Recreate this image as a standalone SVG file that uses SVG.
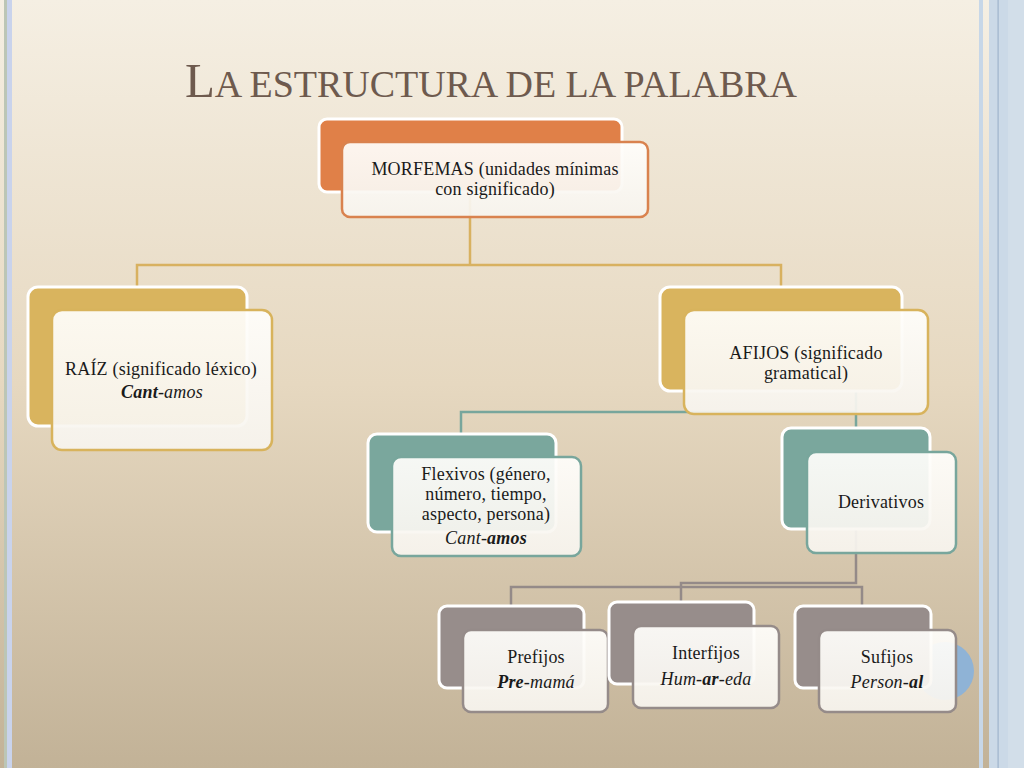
<svg xmlns="http://www.w3.org/2000/svg" width="1024" height="768" viewBox="0 0 1024 768">
<defs>
<linearGradient id="bg" x1="0" y1="0" x2="0" y2="1">
<stop offset="0" stop-color="#f5efe3"/>
<stop offset="0.5" stop-color="#e6d8c0"/>
<stop offset="1" stop-color="#c2b297"/>
</linearGradient>
<linearGradient id="front" x1="0" y1="0" x2="0" y2="1">
<stop offset="0" stop-color="#fffefb"/>
<stop offset="1" stop-color="#f7f4ee"/>
</linearGradient>
</defs>
<style>
.back{stroke:#ffffff;stroke-width:3}
.front{fill:url(#front);fill-opacity:0.93;stroke-width:2.5}
.or{fill:#e08048}
.go{fill:#d9b45e}
.te{fill:#7aa79d}
.gr{fill:#978d8b}
.sor{stroke:#d9824e}
.sgo{stroke:#d8b35c}
.ste{stroke:#78a69c}
.sgr{stroke:#958b89}
.t{font-size:18px;fill:#1a1a1a;text-anchor:middle;letter-spacing:0.2px}
.i{font-style:italic}
.b{font-weight:bold}
.conn{fill:none;stroke-width:2.5}
</style>
<rect x="0" y="0" width="1024" height="768" fill="url(#bg)"/>
<rect x="4" y="0" width="3" height="768" fill="#bcc6b6"/>
<rect x="7" y="0" width="5" height="768" fill="#c9d3ec"/>
<rect x="979" y="0" width="4" height="768" fill="#c7d7e8"/>
<rect x="989" y="0" width="35" height="768" fill="#cbd9e7"/>
<rect x="1008" y="0" width="16" height="768" fill="#d2dee9"/>
<rect x="997.5" y="0" width="1.2" height="768" fill="#9fb4cc"/>

<text x="185" y="97" font-family="Liberation Serif, Times New Roman, serif" fill="#6e5a4e" textLength="612" lengthAdjust="spacing"><tspan font-size="49">L</tspan><tspan font-size="38">A ESTRUCTURA DE LA PALABRA</tspan></text>

<g id="connectors">
<path class="conn" stroke="#d8b160" d="M470 192 V265 M137 287 V265 H781 V287"/>
<path class="conn" stroke="#78a69c" d="M856 390 V428 M461 434 V412 H856"/>
<path class="conn" stroke="#948a88" d="M856 528 V583 H681 V603 M511 606 V587 H862 V606"/>
</g>

<circle cx="945" cy="671" r="29" fill="#8fb3d6"/>

<g font-family="Liberation Serif, Times New Roman, serif">
<g id="morfemas">
<rect class="back or" x="319" y="119" width="303" height="73" rx="8"/>
<rect class="front sor" x="342" y="142" width="306" height="75" rx="8"/>
<text class="t" x="495" y="175">MORFEMAS (unidades mínimas</text>
<text class="t" x="495" y="195">con significado)</text>
</g>

<g id="raiz">
<rect class="back go" x="28" y="287" width="219" height="139" rx="10"/>
<rect class="front sgo" x="52" y="310" width="220" height="140" rx="10"/>
<text class="t" x="161" y="375">RAÍZ (significado léxico)</text>
<text class="t i" x="162" y="398"><tspan class="b">Cant</tspan>-amos</text>
</g>

<g id="afijos">
<rect class="back go" x="660" y="287" width="242" height="104" rx="10"/>
<rect class="front sgo" x="684" y="310" width="244" height="104" rx="10"/>
<text class="t" x="806" y="359">AFIJOS (significado</text>
<text class="t" x="806" y="379">gramatical)</text>
</g>

<g id="flexivos">
<rect class="back te" x="368" y="434" width="188" height="98" rx="9"/>
<rect class="front ste" x="392" y="457" width="189" height="99" rx="9"/>
<text class="t" x="486" y="480">Flexivos (género,</text>
<text class="t" x="486" y="500">número, tiempo,</text>
<text class="t" x="486" y="520">aspecto, persona)</text>
<text class="t i" x="486" y="544">Cant-<tspan class="b">amos</tspan></text>
</g>

<g id="derivativos">
<rect class="back te" x="782" y="428" width="148" height="101" rx="9"/>
<rect class="front ste" x="807" y="452" width="149" height="101" rx="9"/>
<text class="t" x="881" y="508">Derivativos</text>
</g>

<g id="prefijos">
<rect class="back gr" x="439" y="606" width="145" height="82" rx="8"/>
<rect class="front sgr" x="463" y="630" width="145" height="82" rx="8"/>
<text class="t" x="536" y="663">Prefijos</text>
<text class="t i" x="536" y="688"><tspan class="b">Pre</tspan>-mamá</text>
</g>

<g id="interfijos">
<rect class="back gr" x="609" y="602" width="145" height="82" rx="8"/>
<rect class="front sgr" x="633" y="626" width="146" height="82" rx="8"/>
<text class="t" x="706" y="659">Interfijos</text>
<text class="t i" x="706" y="685">Hum-<tspan class="b">ar</tspan>-eda</text>
</g>

<g id="sufijos">
<rect class="back gr" x="795" y="606" width="136" height="82" rx="8"/>
<rect class="front sgr" x="819" y="630" width="137" height="82" rx="8"/>
<text class="t" x="887" y="663">Sufijos</text>
<text class="t i" x="887" y="688">Person-<tspan class="b">al</tspan></text>
</g>
</g>
</svg>
